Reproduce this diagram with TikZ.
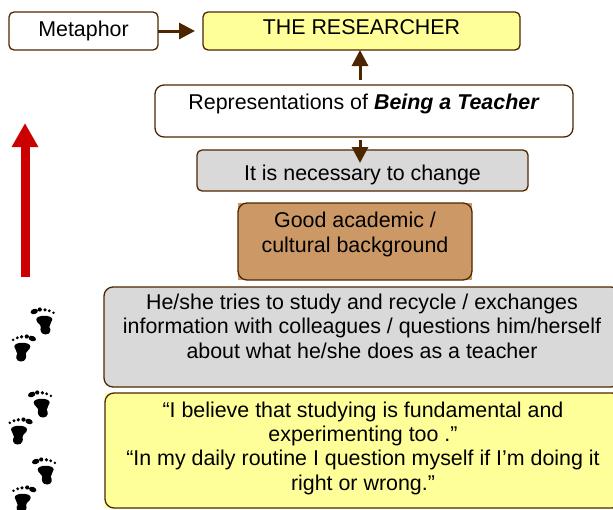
\documentclass[tikz,border=0pt]{standalone}
\usepackage{fontspec}
\setmainfont{Liberation Sans}
\usetikzlibrary{arrows.meta,positioning,backgrounds}
\definecolor{edgebrown}{HTML}{4D2600}
\definecolor{paleyellow}{HTML}{FFFF99}
\definecolor{softgray}{HTML}{D9D9D9}
\definecolor{tanfill}{HTML}{CC9966}
\definecolor{arrowred}{HTML}{CC0000}

\begin{document}
\begin{tikzpicture}[x=1pt,y=-1pt]
\tikzset{box/.style={draw=edgebrown, line width=1.3pt, rounded corners=5pt, align=center, inner sep=0pt, outer sep=0pt, font=\fontsize{21.4}{24.1}\selectfont},
  bigbox/.style={box, rounded corners=9pt},
  flow/.style={draw=edgebrown, line width=3pt, -{Triangle[length=16pt,width=16pt]}},
  footprint/.pic={
    \fill (-8,-.5) .. controls (-8,-5.5) and (8,-5.5) .. (8,-.5) .. controls (8,3) and (4.5,4) .. (5,7) .. controls (7,9) and (6.5,14.5) .. (1.5,14.5) .. controls (-3.5,14.5) and (-4.5,10) .. (-3.5,7) .. controls (-3.5,4) and (-8,3) .. (-8,-.5) -- cycle;
    \fill[rotate around={20:(-10,-8.5)}] (-10,-8.5) ellipse (3.8 and 2.6);
    \fill (-4.5,-10.5) circle (2.1);
    \fill (.7,-10.2) circle (1.8);
    \fill (5,-9.2) circle (1.6);
    \fill (9.2,-7.2) circle (1.4);
  }}
\clip (0,0) rectangle (613,509);
\useasboundingbox (0,0) rectangle (613,509);

\node[box, minimum width=149pt, minimum height=38pt, text height=24pt, text depth=14pt] (metaphor) at (83.5,31) {Metaphor};
\node[box, fill=paleyellow, right=45pt of metaphor, minimum width=317pt, minimum height=38pt, text height=22pt, text depth=16pt] (researcher) {THE RESEARCHER};
\node[bigbox, minimum width=418pt, minimum height=52pt, text height=24pt, text depth=28pt] (representations) at (364,111) {Representations of \textbf{\textit{Being a Teacher}}};
\node[box, fill=softgray, minimum width=331pt, minimum height=41pt, text height=30pt, text depth=11pt] (change) at (362.5,170.5) {It is necessary to change};
\node[bigbox, fill=tanfill, minimum width=234pt, minimum height=77pt, text height=49pt, text depth=28pt] (background) at (355,241.5) {Good academic /\\cultural background};
\node[bigbox, fill=softgray, minimum width=516pt, minimum height=100pt, anchor=north west, text height=71pt, text depth=29pt] (tries) at (104,287) {He/she tries to study and recycle / exchanges\\information with colleagues / questions him/herself\\about what he/she does as a teacher};
\node[bigbox, fill=paleyellow, minimum width=516pt, minimum height=115pt, anchor=north west, text height=97pt, text depth=18pt] (quotes) at (105,393) {“I believe that studying is fundamental and\\experimenting too .”\\“In my daily routine I question myself if I’m doing it\\right or wrong.”};

\begin{scope}[on background layer]
\fill[tanfill] (background.north west) rectangle (background.south east);
\fill[paleyellow] (quotes.north west) rectangle (quotes.south east);
\end{scope}

\draw[flow, shorten >=8pt] (metaphor) -- (researcher);
\draw[flow, shorten <=5pt] ([xshift=-1.5pt]representations.north -| researcher) -- ([xshift=-1.5pt]researcher.south);
\draw[flow, shorten <=3pt, shorten >=-13pt] ([xshift=-1.5pt]representations.south -| researcher) -- ([xshift=-1.5pt]change.north -| researcher);

% red arrow on the left
\coordinate (redstart) at (25,277);
\coordinate (redend) at (25,123);
\draw[draw=arrowred, line width=9pt, -{Triangle[length=24pt,width=25pt]}] (redstart) -- (redend);

% footprints
\pic at (44.3,320) {footprint};
\pic[xscale=-1] at (22.3,347) {footprint};
\pic at (41.7,403) {footprint};
\pic[xscale=-1] at (19,430) {footprint};
\pic at (45.7,470) {footprint};
\pic[xscale=-1] at (22.7,498) {footprint};
\end{tikzpicture}
\end{document}
